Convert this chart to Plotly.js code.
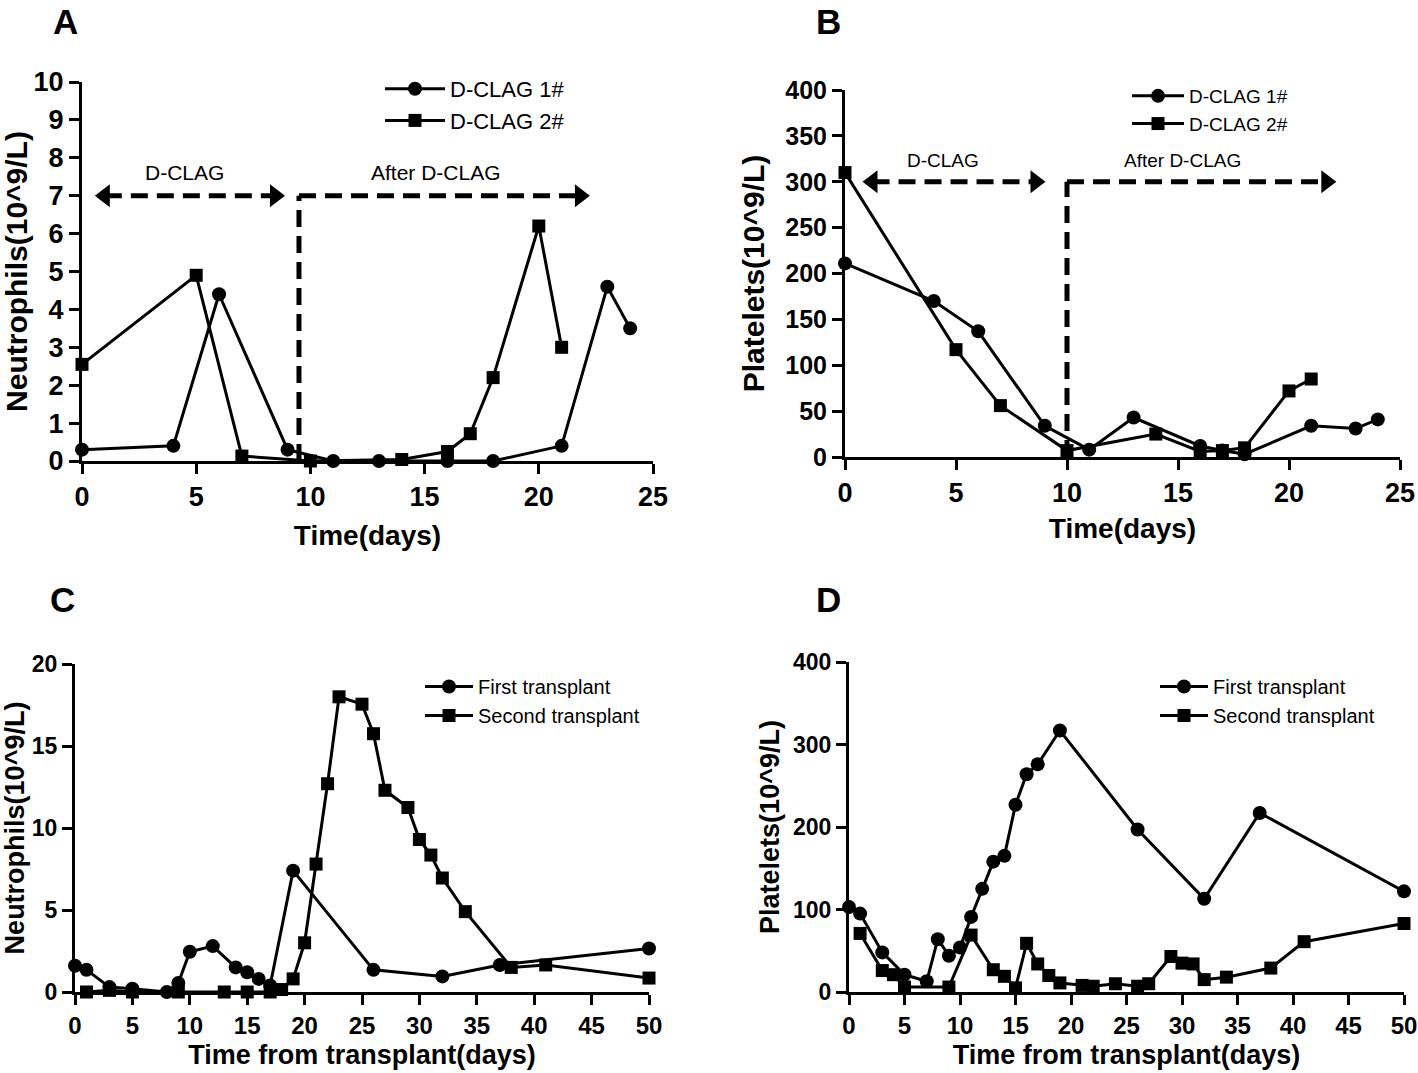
<!DOCTYPE html>
<html>
<head>
<meta charset="utf-8">
<script src="https://cdn.plot.ly/plotly-3.0.1.min.js"></script>
<style>html,body{margin:0;padding:0;background:#fff;}#chart{width:1418px;height:1073px;}</style>
</head>
<body>
<div id="chart"></div>
<script>
// ---------- Data ----------
// Panel A: neutrophils during / after D-CLAG
const A_days1 = [0, 4, 6, 9, 11, 13, 16, 18, 21, 23, 24];
const A_neut1 = [0.3, 0.4, 4.4, 0.3, 0, 0, 0, 0, 0.4, 4.6, 3.5];
const A_days2 = [0, 5, 7, 10, 14, 16, 17, 18, 20, 21];
const A_neut2 = [2.55, 4.9, 0.13, 0, 0.04, 0.25, 0.72, 2.2, 6.2, 3.0];

// Panel B: platelets during / after D-CLAG
const B_days1 = [0, 4, 6, 9, 11, 13, 16, 17, 18, 21, 23, 24];
const B_plt1 = [211, 170, 137, 34, 8, 43, 12, 7, 3, 34, 31, 41];
const B_days2 = [0, 5, 7, 10, 14, 16, 17, 18, 20, 21];
const B_plt2 = [310, 117, 56, 7, 25, 6, 7, 10, 72, 85];

// Panel C: neutrophils after transplant
const C_days1 = [0, 1, 3, 5, 8, 9, 10, 12, 14, 15, 16, 17, 19, 26, 32, 37, 50];
const C_neut1 = [1.6, 1.35, 0.3, 0.2, 0, 0.55, 2.45, 2.8, 1.5, 1.2, 0.8, 0.4, 7.4, 1.35, 0.95, 1.65, 2.65];
const C_days2 = [1, 3, 5, 9, 13, 15, 17, 18, 19, 20, 21, 22, 23, 25, 26, 27, 29, 30, 31, 32, 34, 38, 41, 50];
const C_neut2 = [0, 0.1, 0, 0, 0, 0, 0, 0.15, 0.8, 3.0, 7.8, 12.7, 18.0, 17.55, 15.75, 12.3, 11.25, 9.3, 8.35, 6.95, 4.9, 1.5, 1.65, 0.85];

// Panel D: platelets after transplant
const D_days1 = [0, 1, 3, 5, 7, 8, 9, 10, 11, 12, 13, 14, 15, 16, 17, 19, 26, 32, 37, 50];
const D_plt1 = [103, 95, 48, 21, 13, 64, 44, 54, 91, 125, 158, 165, 227, 264, 276, 317, 197, 113, 217, 122];
const D_days2 = [1, 3, 4, 5, 9, 11, 13, 14, 15, 16, 17, 18, 19, 21, 22, 24, 26, 27, 29, 30, 31, 32, 34, 38, 41, 50];
const D_plt2 = [71, 26, 21, 6, 6, 69, 27, 19, 5, 59, 34, 20, 11, 8, 7, 10, 7, 10, 43, 35, 34, 15, 18, 29, 61, 83];

// Legend names and labels
const namesAB = ["D-CLAG 1#", "D-CLAG 2#"];
const namesCD = ["First transplant", "Second transplant"];
const phaseLabels = ["D-CLAG", "After D-CLAG"];
const panelLetters = ["A", "B", "C", "D"];

// Phase arrows (annotation geometry, in data units)
const A_arrow = {y: 7, leftHead: 1.0, rightHead: 8.45, split: 9.5, farHead: 21.8, labelY: 7.6, labelX: [4.5, 15.5]};
const B_arrow = {y: 300, leftHead: 1.24, rightHead: 8.58, split: 10, farHead: 21.68, labelY: 323, labelX: [4.4, 15.2]};

// ---------- Layout helpers ----------
const W = 1418, H = 1073;
const FONT = "Liberation Sans, Arial, Helvetica, sans-serif";
function dx(a, b) { return [a / W, b / W]; }
function dy(top, bottom) { return [(H - bottom) / H, (H - top) / H]; }

function axis(extra) {
  return Object.assign({
    showline: true, linecolor: "#000", linewidth: 3,
    ticks: "outside", ticklen: 10, tickwidth: 3, tickcolor: "#000",
    showgrid: false, zeroline: false, fixedrange: true,
    tickfont: {family: FONT, size: 27, color: "#000", weight: "bold"}
  }, extra);
}

function series(x, y, name, sym, xa, ya, leg) {
  return {
    x: x, y: y, name: name, type: "scatter", mode: "lines+markers",
    xaxis: xa, yaxis: ya, legend: leg, cliponaxis: false,
    line: {color: "#000", width: 3},
    marker: {symbol: sym, size: sym === "square" ? 13 : 14, color: "#000"},
    hoverinfo: "x+y"
  };
}

function heads(arr, xa, ya) {
  return {
    x: [arr.leftHead, arr.rightHead, arr.farHead], y: [arr.y, arr.y, arr.y],
    type: "scatter", mode: "markers", xaxis: xa, yaxis: ya, showlegend: false,
    hoverinfo: "skip", cliponaxis: false,
    marker: {symbol: ["triangle-left", "triangle-right", "triangle-right"], size: 20, color: "#000"}
  };
}

function dashShapes(arr, xr, yr) {
  const ln = {color: "#000", width: 5, dash: "17px,9px"};
  return [
    {type: "line", xref: xr, yref: yr, x0: arr.leftHead, x1: arr.rightHead, y0: arr.y, y1: arr.y, line: ln},
    {type: "line", xref: xr, yref: yr, x0: arr.split, x1: arr.farHead, y0: arr.y, y1: arr.y, line: ln},
    {type: "line", xref: xr, yref: yr, x0: arr.split, x1: arr.split, y0: 0, y1: arr.y, line: ln}
  ];
}

const traces = [
  series(A_days1, A_neut1, namesAB[0], "circle", "x", "y", "legend"),
  series(A_days2, A_neut2, namesAB[1], "square", "x", "y", "legend"),
  heads(A_arrow, "x", "y"),
  series(B_days1, B_plt1, namesAB[0], "circle", "x2", "y2", "legend2"),
  series(B_days2, B_plt2, namesAB[1], "square", "x2", "y2", "legend2"),
  heads(B_arrow, "x2", "y2"),
  series(C_days1, C_neut1, namesCD[0], "circle", "x3", "y3", "legend3"),
  series(C_days2, C_neut2, namesCD[1], "square", "x3", "y3", "legend3"),
  series(D_days1, D_plt1, namesCD[0], "circle", "x4", "y4", "legend4"),
  series(D_days2, D_plt2, namesCD[1], "square", "x4", "y4", "legend4")
];

function legendAt(left, top, size, iw) {
  return {x: left / W, y: (H - top) / H, xanchor: "left", yanchor: "top",
          bgcolor: "rgba(0,0,0,0)", borderwidth: 0, tracegroupgap: 0, itemwidth: iw,
          font: {family: FONT, size: size, color: "#000"}};
}

function titleFont(size) { return {family: FONT, size: size, color: "#000", weight: "bold"}; }
function letter(t, px, py) {
  return {text: t, x: px / W, y: 1 - py / H, xref: "paper", yref: "paper", showarrow: false,
          xanchor: "center", yanchor: "top", font: {family: FONT, size: 35, color: "#000", weight: "bold"}};
}

const layout = {
  width: W, height: H,
  margin: {l: 0, r: 0, t: 0, b: 0},
  paper_bgcolor: "#fff", plot_bgcolor: "#fff",
  showlegend: true,
  font: {family: FONT, color: "#000"},
  xaxis: axis({domain: dx(82, 653), range: [0, 25], dtick: 5, tick0: 0, anchor: "y",
               title: {text: "Time(days)", font: titleFont(28), standoff: 14}}),
  yaxis: axis({domain: dy(82, 461), range: [0, 10], dtick: 1, tick0: 0, anchor: "x",
               title: {text: "Neutrophils(10^9/L)", font: titleFont(30), standoff: 4}}),
  xaxis2: axis({domain: dx(845, 1400), range: [0, 25], dtick: 5, tick0: 0, anchor: "y2",
                title: {text: "Time(days)", font: titleFont(28), standoff: 11}}),
  yaxis2: axis({domain: dy(90, 457), range: [0, 400], dtick: 50, tick0: 0, anchor: "x2",
                tickfont: {family: FONT, size: 25, color: "#000", weight: "bold"},
                title: {text: "Platelets(10^9/L)", font: titleFont(30), standoff: 12}}),
  xaxis3: axis({domain: dx(75, 649), range: [0, 50], dtick: 5, tick0: 0, anchor: "y3",
                tickfont: {family: FONT, size: 24, color: "#000", weight: "bold"},
                title: {text: "Time from transplant(days)", font: titleFont(27), standoff: 8}}),
  yaxis3: axis({domain: dy(664, 992), range: [0, 20], dtick: 5, tick0: 0, anchor: "x3",
                tickfont: {family: FONT, size: 23, color: "#000", weight: "bold"},
                title: {text: "Neutrophils(10^9/L)", font: titleFont(27), standoff: 4}}),
  xaxis4: axis({domain: dx(849, 1404), range: [0, 50], dtick: 5, tick0: 0, anchor: "y4",
                tickfont: {family: FONT, size: 24, color: "#000", weight: "bold"},
                title: {text: "Time from transplant(days)", font: titleFont(27), standoff: 8}}),
  yaxis4: axis({domain: dy(662, 992), range: [0, 400], dtick: 100, tick0: 0, anchor: "x4",
                tickfont: {family: FONT, size: 23, color: "#000", weight: "bold"},
                title: {text: "Platelets(10^9/L)", font: titleFont(27), standoff: 6}}),
  legend: legendAt(380, 68, 22, 60),
  legend2: legendAt(1127, 77, 19, 52),
  legend3: legendAt(420, 667, 20, 48),
  legend4: legendAt(1155, 667, 20, 48),
  shapes: [].concat(dashShapes(A_arrow, "x", "y"), dashShapes(B_arrow, "x2", "y2")),
  annotations: [
    {text: phaseLabels[0], x: A_arrow.labelX[0], y: A_arrow.labelY, xref: "x", yref: "y", showarrow: false, font: {family: FONT, size: 21, color: "#000"}},
    {text: phaseLabels[1], x: A_arrow.labelX[1], y: A_arrow.labelY, xref: "x", yref: "y", showarrow: false, font: {family: FONT, size: 21, color: "#000"}},
    {text: phaseLabels[0], x: B_arrow.labelX[0], y: B_arrow.labelY, xref: "x2", yref: "y2", showarrow: false, font: {family: FONT, size: 19, color: "#000"}},
    {text: phaseLabels[1], x: B_arrow.labelX[1], y: B_arrow.labelY, xref: "x2", yref: "y2", showarrow: false, font: {family: FONT, size: 19, color: "#000"}},
    letter(panelLetters[0], 65, 0),
    letter(panelLetters[1], 828, 0),
    letter(panelLetters[2], 62, 578),
    letter(panelLetters[3], 828, 578)
  ]
};

Plotly.newPlot("chart", traces, layout, {staticPlot: true, displayModeBar: false});
</script>
</body>
</html>
